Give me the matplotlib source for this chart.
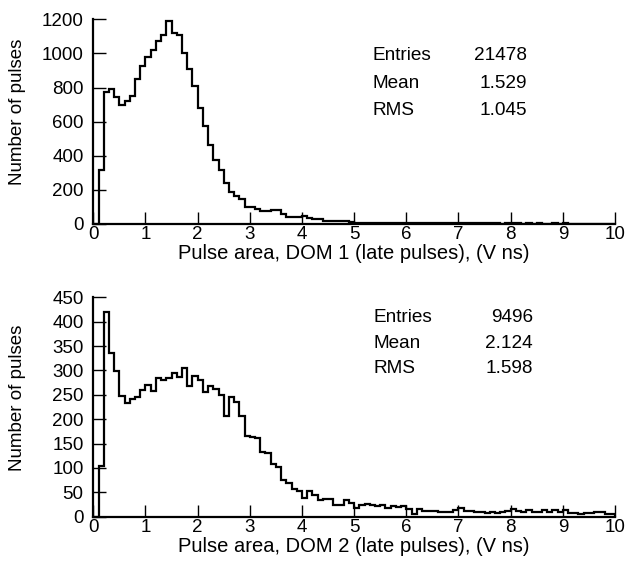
"""
Pulse area histograms, DOM 1 and DOM 2 (late pulses)
"""
import matplotlib
matplotlib.use('Agg')
import matplotlib.pyplot as plt
import numpy as np

plt.rcParams['font.family'] = ['Liberation Sans', 'DejaVu Sans']

# bin edges: 0 .. 10 V ns in steps of 0.1
edges = np.linspace(0, 10, 101)

# DOM 1 counts per bin
dom1 = [0, 318, 773, 792, 745, 700, 720, 750, 850, 925,
        980, 1020, 1072, 1110, 1192, 1118, 1106, 1004, 906, 810,
        680, 573, 462, 375, 316, 243, 185, 165, 145, 98,
        100, 88, 78, 75, 82, 82, 59, 43, 43, 43,
        49, 35, 29, 29, 20, 20, 16, 16, 16, 10,
        8, 6, 8, 8, 5, 5, 6, 8, 4, 5,
        5, 4, 6, 5, 4, 7, 4, 3, 4, 3,
        6, 4, 3, 4, 3, 5, 3, 3, 2, 3,
        4, 3, 2, 3, 2, 3, 2, 2, 3, 2,
        3, 2, 2, 1, 2, 2, 1, 2, 1, 1]

# DOM 2 counts per bin
dom2 = [0, 103, 419, 336, 298, 247, 233, 241, 245, 259,
        270, 257, 284, 281, 284, 295, 286, 305, 268, 289,
        281, 255, 269, 262, 250, 207, 245, 236, 207, 166,
        163, 162, 132, 131, 108, 101, 75, 70, 57, 53,
        38, 52, 45, 34, 36, 36, 25, 25, 34, 29,
        18, 25, 27, 25, 21, 23, 18, 21, 19, 21,
        16, 5, 16, 12, 12, 12, 10, 9, 9, 14,
        18, 12, 12, 9, 9, 7, 9, 7, 9, 12,
        16, 11, 9, 13, 9, 10, 14, 10, 13, 10,
        14, 8, 7, 6, 7, 7, 9, 10, 6, 5]

stats1 = [('Entries', '21478'), ('Mean', '1.529'), ('RMS', '1.045')]
stats2 = [('Entries', '9496'), ('Mean', '2.124'), ('RMS', '1.598')]

fig = plt.figure(figsize=(6.28, 5.64), dpi=100)

W, H = 628.0, 564.0
ax1 = fig.add_axes([93.3 / W, 1 - 224 / H, 521.7 / W, 204.7 / H])
ax2 = fig.add_axes([93.3 / W, 1 - 516.7 / H, 521.7 / W, 219.4 / H])


def style(ax, ymax, ystep, xlabel):
    ax.set_xlim(0, 10)
    ax.set_ylim(0, ymax)
    ax.set_xticks(np.arange(0, 11, 1))
    ax.set_yticks(np.arange(0, ymax + 1, ystep))
    for s in ['top', 'right']:
        ax.spines[s].set_visible(False)
    for s in ['left', 'bottom']:
        ax.spines[s].set_linewidth(1.6)
    ax.tick_params(axis='both', direction='in', length=9, width=1.0,
                   labelsize=13.5)
    ax.tick_params(axis='x', pad=1.5)
    ax.tick_params(axis='y', pad=7)
    ax.set_xlabel(xlabel, fontsize=14.5, labelpad=1)


ax1.stairs(dom1, edges, color='black', lw=1.6)
ax2.stairs(dom2, edges, color='black', lw=1.6)

style(ax1, 1200, 200, 'Pulse area, DOM 1 (late pulses), (V ns)')
style(ax2, 450, 50, 'Pulse area, DOM 2 (late pulses), (V ns)')

# statistics box text
ys1 = [0.801, 0.664, 0.532]
for (k, v), y in zip(stats1, ys1):
    ax1.text(0.536, y, k, transform=ax1.transAxes, fontsize=13.7, va='baseline')
    ax1.text(0.831, y, v, transform=ax1.transAxes, fontsize=13.7, va='baseline',
             ha='right')

ys2 = [0.889, 0.768, 0.654]
for (k, v), y in zip(stats2, ys2):
    ax2.text(0.537, y, k, transform=ax2.transAxes, fontsize=13.7, va='baseline')
    ax2.text(0.843, y, v, transform=ax2.transAxes, fontsize=13.7, va='baseline',
             ha='right')

fig.text(18 / W, 1 - 112 / H, 'Number of pulses', rotation=90,
         ha='center', va='center', fontsize=13.5)
fig.text(18 / W, 1 - 397.5 / H, 'Number of pulses', rotation=90,
         ha='center', va='center', fontsize=13.5)

fig.savefig('out.png', dpi=100)
